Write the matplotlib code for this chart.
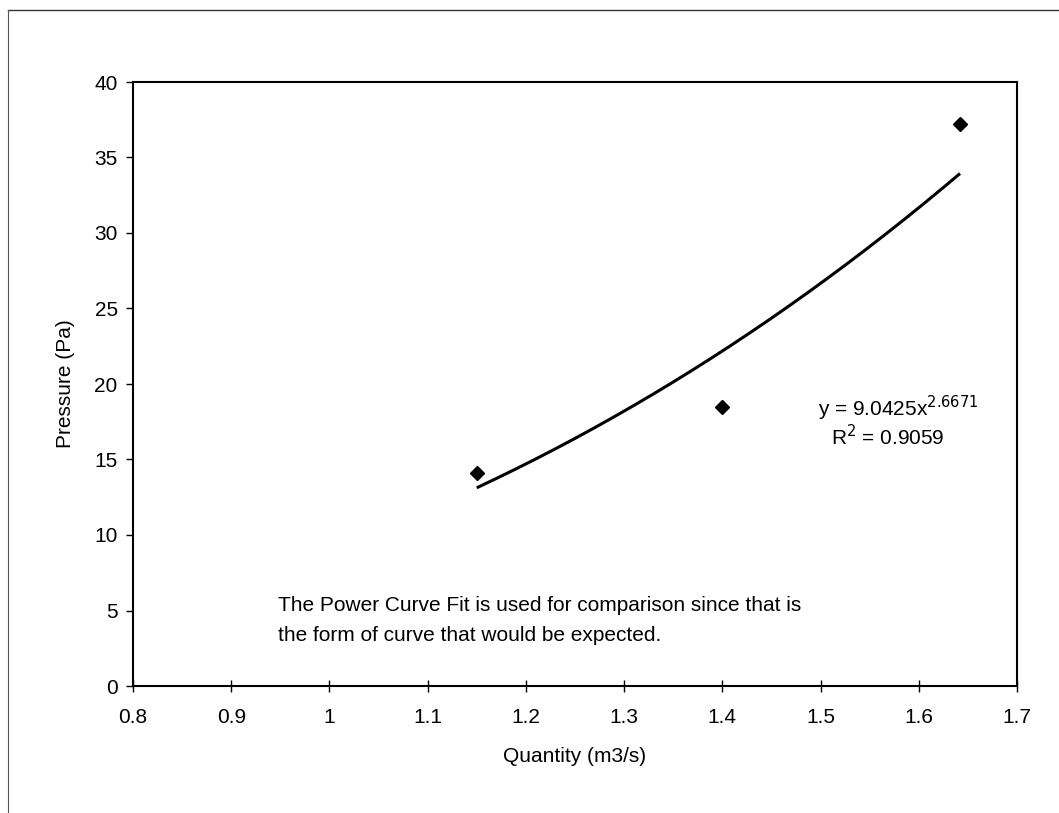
import numpy as np
import matplotlib
matplotlib.use("Agg")
import matplotlib.pyplot as plt
from matplotlib.lines import Line2D

plt.rcParams['font.family'] = ['Liberation Sans', 'DejaVu Sans']

quantity = [1.15, 1.40, 1.642]
pressure = [14.1, 18.5, 37.2]
coef_a = 9.0425
coef_b = 2.6671
x_ticks = [0.8, 0.9, 1.0, 1.1, 1.2, 1.3, 1.4, 1.5, 1.6, 1.7]
x_tick_labels = ['0.8', '0.9', '1', '1.1', '1.2', '1.3', '1.4', '1.5', '1.6', '1.7']
y_ticks = [0, 5, 10, 15, 20, 25, 30, 35, 40]

W, H = 1059, 813
fig = plt.figure(figsize=(W / 100, H / 100), dpi=100)
ax = fig.add_axes([133 / W, 1 - 686 / H, (1017 - 133) / W, (686 - 82) / H])

xf = np.linspace(min(quantity), max(quantity), 200)
ax.plot(xf, coef_a * xf ** coef_b, color='black', lw=2.2, solid_capstyle='butt')
ax.plot(quantity, pressure, linestyle='none', marker='D', markersize=7.5,
        color='black')

ax.set_xlim(0.8, 1.7)
ax.set_ylim(0, 40)
ax.set_xticks(x_ticks)
ax.set_xticklabels(x_tick_labels)
ax.set_yticks(y_ticks)
ax.tick_params(axis='x', direction='inout', length=8, width=1, labelsize=15, pad=12)
ax.tick_params(axis='y', direction='out', length=5, width=1, labelsize=15, pad=6)
for s in ax.spines.values():
    s.set_linewidth(1.5)

ax.set_xlabel('Quantity (m3/s)', fontsize=15, labelpad=14)
ax.set_ylabel('Pressure (Pa)', fontsize=15, labelpad=14)

ax.text(1.497, 18.4, 'y = 9.0425x$^{2.6671}$', fontsize=15, ha='left', va='center')
ax.text(1.568, 16.5, 'R$^{2}$ = 0.9059', fontsize=15, ha='center', va='center')

ax.text(0.948, 5.3, 'The Power Curve Fit is used for comparison since that is',
        fontsize=15, ha='left', va='center')
ax.text(0.948, 3.35, 'the form of curve that would be expected.',
        fontsize=15, ha='left', va='center')

# outer frame lines (top and left)
fig.add_artist(Line2D([8 / W, 1.0], [1 - 10 / H, 1 - 10 / H], color='#333333', lw=1.0,
                      transform=fig.transFigure))
fig.add_artist(Line2D([8 / W, 8 / W], [1 - 10 / H, 0.0], color='#555555', lw=0.8,
                      transform=fig.transFigure))

fig.savefig('out.png', dpi=100)
